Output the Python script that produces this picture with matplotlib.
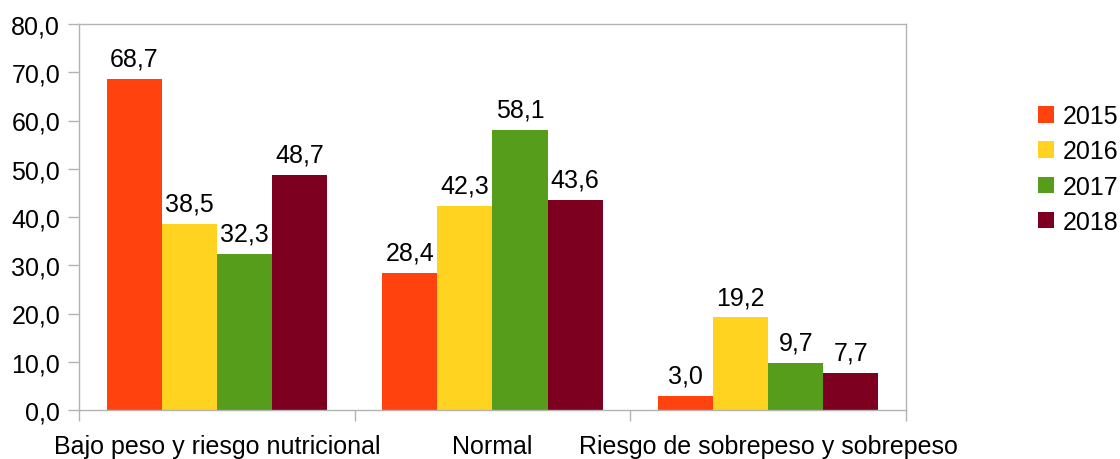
import matplotlib
matplotlib.use("Agg")
import matplotlib.pyplot as plt
import numpy as np

categories = ["Bajo peso y riesgo nutricional", "Normal", "Riesgo de sobrepeso y sobrepeso"]
years = ["2015", "2016", "2017", "2018"]
v2015 = [68.7, 28.4, 3.0]
v2016 = [38.5, 42.3, 19.2]
v2017 = [32.3, 58.1, 9.7]
v2018 = [48.7, 43.6, 7.7]
series = [v2015, v2016, v2017, v2018]
colors = ["#FF420E", "#FFD320", "#579D1C", "#7E0021"]
yticks = np.arange(0, 81, 10)

plt.rcParams['font.family'] = ['Liberation Sans', 'DejaVu Sans']
FS = 18

fig = plt.figure(figsize=(11.2, 4.6), dpi=100)
ax = fig.add_axes([79/1120, 1-411/460, (906-79)/1120, (411-25)/460])

x = np.arange(len(categories))
w = 0.2
for i, (vals, c, lab) in enumerate(zip(series, colors, years)):
    pos = x - 0.3 + i * w
    bars = ax.bar(pos, vals, width=w, color=c, label=lab)
    for b, v in zip(bars, vals):
        ax.annotate(f"{v:.1f}".replace(".", ","), (b.get_x() + b.get_width()/2, v),
                    xytext=(0, 6), textcoords="offset points", ha="center", va="bottom",
                    fontsize=FS)

ax.set_xlim(-0.5, 2.5)
ax.set_ylim(0, 80)
ax.set_yticks(yticks)
ax.set_yticklabels([f"{t:.1f}".replace(".", ",") for t in yticks], fontsize=FS)
ax.set_xticks(x)
ax.set_xticklabels(categories, fontsize=FS)
ax.tick_params(axis='x', length=0, pad=17)
ax.set_xticks([-0.5, 0.5, 1.5, 2.5], minor=True)
ax.tick_params(axis='x', which='minor', length=8, width=1, color='#b3b3b3', direction='out')
ax.tick_params(axis='y', length=8, width=1, color='#b3b3b3', direction='out', pad=5.5)
for s in ax.spines.values():
    s.set_color('#b3b3b3')
    s.set_linewidth(1)

ax.legend(loc='center left', bbox_to_anchor=(1038/1120, 1-170/460), bbox_transform=fig.transFigure,
          frameon=False, fontsize=FS, handlelength=0.64, handleheight=0.64,
          handletextpad=0.35, labelspacing=0.45, borderaxespad=0, borderpad=0)

fig.savefig("out.png", dpi=100)
